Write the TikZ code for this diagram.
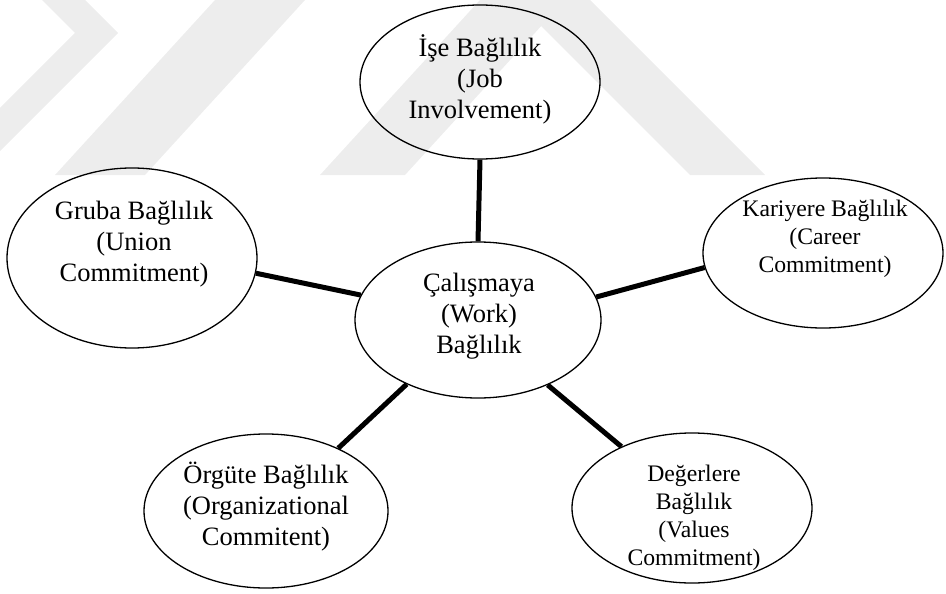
\documentclass[tikz,border=0pt]{standalone}
\usepackage{fontspec}
\setmainfont{Liberation Serif}
\usetikzlibrary{shapes.geometric}

\tikzset{
  bubble/.style={ellipse, draw=black, line width=1.3pt, inner sep=0pt},
  bigtext/.style={align=center, inner sep=0pt,
    font=\fontsize{26.5}{31}\selectfont},
  smalltext/.style={align=center, inner sep=0pt,
    font=\fontsize{23.7}{28}\selectfont},
  link/.style={line width=5pt},
  mark band/.style={fill=black!7, draw=none}
}

\begin{document}
\begin{tikzpicture}[x=1pt, y=-1pt]
  \useasboundingbox (0,0) rectangle (946,594);

  % faint background stripes
  \fill[mark band] (42,0) -- (85,0) -- (118,33) -- (0,151) -- (0,108) -- (75,33) -- cycle;
  \fill[mark band] (55,175) -- (145,175) -- (305,0) -- (215,0) -- cycle;
  \fill[mark band] (320,175) -- (405,175) -- (565,0) -- (480,0) -- cycle;
  \fill[mark band] (515,0) -- (590,0) -- (765,175) -- (690,175) -- cycle;

  % ellipses
  \node[bubble, minimum width=240pt, minimum height=154pt] (job)  at (480,82)  {};
  \node[bubble, minimum width=250pt, minimum height=180pt] (union) at (132,258) {};
  \node[bubble, minimum width=246pt, minimum height=156pt] (work) at (478,320) {};
  \node[bubble, minimum width=240pt, minimum height=150pt] (career) at (823,253) {};
  \node[bubble, minimum width=244pt, minimum height=154pt] (org)  at (266,511) {};
  \node[bubble, minimum width=240pt, minimum height=150pt] (values) at (692,508) {};

  % labels
  \node[bigtext]   (job-t)    at (480,79)  {İşe Bağlılık\\(Job\\Involvement)};
  \node[bigtext]   (union-t)  at (134,244) {Gruba Bağlılık\\(Union\\Commitment)};
  \node[bigtext]   (work-t)   at (479,316) {Çalışmaya\\(Work)\\Bağlılık};
  \node[smalltext] (career-t) at (825,239) {Kariyere Bağlılık\\(Career\\Commitment)};
  \node[bigtext]   (org-t)    at (266,507) {Örgüte Bağlılık\\(Organizational\\Commitent)};
  \node[smalltext] (values-t) at (694,518) {Değerlere\\Bağlılık\\(Values\\Commitment)};

  % connectors
  \draw[link] (job.south) -- (work.north);
  \draw[link] (union.-7.2) -- (work.168.2);
  \draw[link] (work.11.3) -- (career.187.4);
  \draw[link] (org.41.1) -- (work.222.9);
  \draw[link] (values.139.9) -- (work.317.7);
\end{tikzpicture}
\end{document}
